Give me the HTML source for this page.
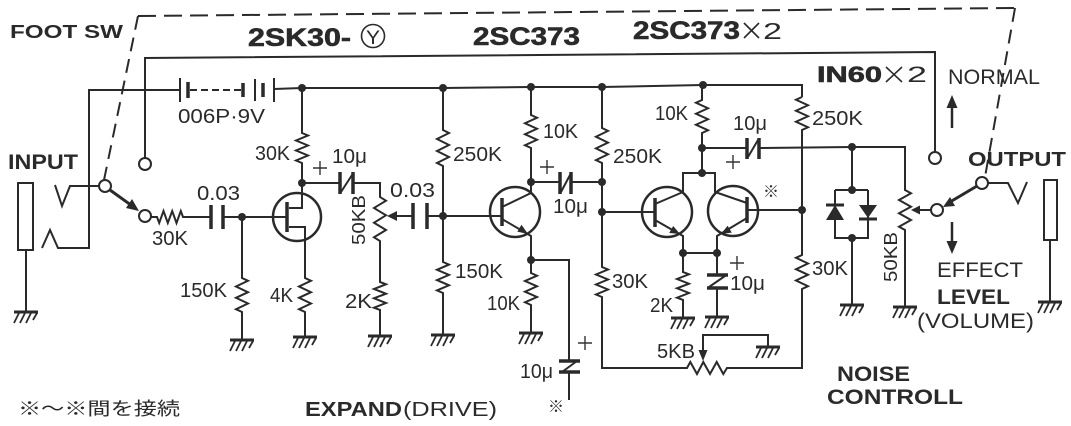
<!DOCTYPE html>
<html><head><meta charset="utf-8"><style>
html,body{margin:0;padding:0;background:#fff;}
svg{display:block;}
text{font-family:"Liberation Sans","Noto Sans CJK JP",sans-serif;fill:#2a2a2a;}
.t{font-size:20px;}
.b{font-weight:bold;}
</style></head><body>
<svg width="1071" height="426" viewBox="0 0 1071 426" xmlns="http://www.w3.org/2000/svg">
<rect width="1071" height="426" fill="#fff"/>
<g fill="none" stroke="#2a2a2a" stroke-width="2">
<path d="M138,16 L1015,8" stroke-dasharray="18,8"/>
<path d="M138,16 L104,180" stroke-dasharray="14,8"/>
<path d="M1015,8 L985,177" stroke-dasharray="14,8"/>

<rect x="18" y="183" width="15" height="67"/>
<path d="M26,250 L26,312"/>
<path d="M55,185 L62,206 L70,186 L99,186"/>
<path d="M42,248 L50,230 L58,248 L89,248 L89,90 L180,90"/>

<path d="M145,158 L145,58 L935,52 L935,152"/>

<path d="M180,78 L180,102"/>
<path d="M188,82 L188,98" stroke-width="3.5"/>
<path d="M190,90 L242,90" stroke-dasharray="7,4"/>
<path d="M243,83 L243,97" stroke-width="3.5"/>
<path d="M255,79 L255,101"/>
<path d="M263,83 L263,97" stroke-width="3.5"/>
<path d="M274,78 L274,102"/>
<path d="M274,89 L302,88 L443,88 L531,87 L602,87 L703,85 L802,85 L802,97"/>

<path d="M302,88 L302,133 L308,135.5 L296,140.5 L308,145.5 L296,150.5 L308,155.5 L296,160.5 L302,163 L302,208 L289,208"/>
<circle cx="297" cy="217" r="24" stroke-width="2.5"/>
<path d="M287,202 L287,232" stroke-width="3.5"/>
<path d="M289,227 L305,227 L305,278 L311,280.8 L299,286.5 L311,292.2 L299,297.8 L311,303.5 L299,309.2 L305,312 L305,337"/>
<path d="M242,217 L287,217"/>
<path d="M242,217 L242,278 L248,280.8 L236,286.5 L248,292.2 L236,297.8 L248,303.5 L236,309.2 L242,312 L242,340"/>
<path d="M242,217 L223,217"/>
<path d="M223,205 L223,229 M211,205 L211,229" stroke-width="3.5"/>
<path d="M211,217 L183,217 L180.8,211 L176.5,223 L172.2,211 L167.8,223 L163.5,211 L159.2,223 L157,217 L151,217"/>

<circle cx="145" cy="164" r="6" fill="#fff"/>
<circle cx="145" cy="216" r="6" fill="#fff"/>
<circle cx="105" cy="186" r="6" fill="#fff"/>
<path d="M110,190 L135,208" stroke-width="3"/>

<path d="M302,183 L339,183 M352,183 L380,183 L380,197 L386,200.7 L374,208 L386,215.3 L374,222.7 L386,230 L374,237.3 L380,241 L380,282 L386,284.3 L374,289 L386,293.7 L374,298.3 L386,303 L374,307.7 L380,310 L380,336"/>
<path d="M340,172 L340,194 M353,172 L353,194" stroke-width="3.5"/>
<path d="M341,192 L352,175"/>
<path d="M413,216 L392,216"/>
<path d="M413,203 L413,229 M427,203 L427,229" stroke-width="3.5"/>
<path d="M427,216 L502,216"/>

<path d="M443,88 L443,130 L449,133 L437,139 L449,145 L437,151 L449,157 L437,163 L443,166 L443,262 L449,264.6 L437,269.8 L449,274.9 L437,280.1 L449,285.3 L437,290.4 L443,293 L443,335"/>

<circle cx="515" cy="212" r="25" stroke-width="2.5"/>
<path d="M502,198 L502,226" stroke-width="3.5"/>
<path d="M531,87 L531,115 L537,117.75 L525,123.25 L537,128.75 L525,134.25 L537,139.75 L525,145.25 L531,148 L531,193 L502,207"/>
<path d="M502,219 L531,236 L531,273 L537,275.7 L525,281 L537,286.3 L525,291.7 L537,297 L525,302.3 L531,305 L531,333"/>
<path d="M531,260 L569,260 L569,361 M569,372 L569,400"/>
<path d="M559,361 L580,361 M559,372 L580,372" stroke-width="3.5"/>
<path d="M562,372 L577,361"/>
<path d="M531,182 L559,182 M572,182 L602,182"/>
<path d="M560,172 L560,194 M571,172 L571,194" stroke-width="3.5"/>
<path d="M561,192 L570,175"/>

<path d="M602,87 L602,128 L608,130.9 L596,136.75 L608,142.6 L596,148.4 L608,154.25 L596,160.1 L602,163 L602,267 L608,269.5 L596,274.5 L608,279.5 L596,284.5 L608,289.5 L596,294.5 L602,297 L602,368 L687,368 L690.3,362 L697,374 L703.3,362 L710,374 L716.7,362 L723.3,374 L727,368 L802,368 L802,289 L808,286.2 L796,280.5 L808,274.8 L796,269.2 L808,263.5 L796,257.8 L802,255 L802,130 L808,127.25 L796,121.75 L808,116.25 L796,110.75 L808,105.25 L796,99.75 L802,97"/>
<path d="M602,212 L655,212"/>

<circle cx="667" cy="212" r="25" stroke-width="2.5"/>
<circle cx="733" cy="211" r="25" stroke-width="2.5"/>
<path d="M655,198 L655,227 M747,197 L747,223" stroke-width="3.5"/>
<path d="M655,204 L683,192 L683,173 L715,173 L715,192 L747,203"/>
<path d="M655,220 L683,236 L683,253 L717,253 L717,236 L747,218"/>
<path d="M747,210 L803,210"/>
<path d="M702,173 L702,148 L702,133 L708,130.25 L696,124.75 L708,119.25 L696,113.75 L708,108.25 L696,102.75 L702,100 L702,85"/>
<path d="M702,148 L746,148 M759,148 L852,147 L905,147 L905,190 L911,193.3 L899,200 L911,206.7 L899,213.3 L911,220 L899,226.7 L905,230 L905,307"/>
<path d="M747,138 L747,159 M759,138 L759,159" stroke-width="3.5"/>
<path d="M748,157 L758,140"/>
<path d="M683,253 L683,272 L689,274.3 L677,279 L689,283.7 L677,288.3 L689,293 L677,297.7 L683,300 L683,318"/>
<path d="M717,253 L717,275 M717,288 L717,317"/>
<path d="M707,275 L728,275 M707,288 L728,288" stroke-width="3.5"/>
<path d="M709,287 L725,276"/>
<path d="M768,347 L768,335 L703,335 L703,352"/>

<path d="M852,147 L852,190 M835,190 L868,190 M835,190 L835,238 L868,238 L868,190 M852,238 L852,305"/>
<path d="M826,205 L844,205 M859,219 L877,219" stroke-width="3"/>

<path d="M931,210 L916,210"/>
<circle cx="935" cy="158" r="6" fill="#fff"/>
<circle cx="937" cy="210" r="6" fill="#fff"/>
<circle cx="982" cy="183" r="6" fill="#fff"/>
<path d="M977,186 L950,202" stroke-width="3"/>
<path d="M988,183 L1008,183 L1018,203 L1027,182"/>
<rect x="1044" y="180" width="13" height="60"/>
<path d="M1050,240 L1050,302"/>
<path d="M952,128 L952,105 M952,222 L952,243" stroke-width="2.5"/>

<path d="M14,312 L38,312 M230,340 L254,340 M293,337 L317,337 M368,336 L392,336 M431,335 L455,335 M519,333 L543,333 M671,318 L695,318 M705,317 L729,317 M756,347 L780,347 M840,305 L864,305 M893,307 L917,307 M1038,302 L1062,302" stroke-width="3"/>
</g>

<g stroke="#2a2a2a" stroke-width="1.8" fill="none">
<path d="M19,313 L14,323 M25,313 L20,323 M31,313 L26,323 M37,313 L33,320"/>
<path d="M235,341 L230,351 M241,341 L236,351 M247,341 L242,351 M253,341 L249,348"/>
<path d="M298,338 L293,348 M304,338 L299,348 M310,338 L305,348 M316,338 L312,345"/>
<path d="M373,337 L368,347 M379,337 L374,347 M385,337 L380,347 M391,337 L387,344"/>
<path d="M436,336 L431,346 M442,336 L437,346 M448,336 L443,346 M454,336 L450,343"/>
<path d="M524,334 L519,344 M530,334 L525,344 M536,334 L531,344 M542,334 L538,341"/>
<path d="M676,319 L671,329 M682,319 L677,329 M688,319 L683,329 M694,319 L690,326"/>
<path d="M710,318 L705,328 M716,318 L711,328 M722,318 L717,328 M728,318 L724,325"/>
<path d="M761,348 L756,358 M767,348 L762,358 M773,348 L768,358 M779,348 L775,355"/>
<path d="M845,306 L840,316 M851,306 L846,316 M857,306 L852,316 M863,306 L859,313"/>
<path d="M898,308 L893,318 M904,308 L899,318 M910,308 L905,318 M916,308 L912,315"/>
<path d="M1043,303 L1038,313 M1049,303 L1044,313 M1055,303 L1050,313 M1061,303 L1057,310"/>
</g>

<g fill="#2a2a2a" stroke="none">
<circle cx="302" cy="88" r="4"/><circle cx="302" cy="183" r="4"/><circle cx="242" cy="217" r="4"/>
<circle cx="443" cy="88" r="4"/><circle cx="443" cy="216" r="4"/>
<circle cx="531" cy="87" r="4"/><circle cx="531" cy="182" r="4"/><circle cx="531" cy="260" r="4"/>
<circle cx="602" cy="87" r="4"/><circle cx="602" cy="182" r="4"/><circle cx="602" cy="212" r="4"/>
<circle cx="703" cy="85" r="4"/><circle cx="702" cy="148" r="4"/><circle cx="702" cy="173" r="4"/>
<circle cx="683" cy="253" r="4"/><circle cx="717" cy="253" r="4"/><circle cx="802" cy="210" r="4"/>
<circle cx="852" cy="147" r="4"/><circle cx="852" cy="190" r="4"/><circle cx="852" cy="238" r="4"/>
<polygon points="528,234 517.3,231.6 521.5,224.8"/>
<polygon points="680,234 669.2,233 673.2,226"/>
<polygon points="721,234 731.8,232.6 727.6,225.8"/>
<polygon points="139,211 126,208 132,199"/>
<polygon points="943,207 955,206 950,197"/>
<polygon points="387,216 397,211 397,221"/>
<polygon points="911,210 920,205.5 920,214.5"/>
<polygon points="703,361 698.5,350 707.5,350"/>
<polygon points="952,95 946.5,108 957.5,108"/>
<polygon points="952,254 946.5,241 957.5,241"/>
<polygon points="835,205 826,220 844,220"/>
<polygon points="868,218 859,205 877,205"/>
</g>

<g stroke="#333" stroke-width="1.4">
<path d="M313,168 L327,168 M320,161 L320,175"/>
<path d="M540,167 L554,167 M547,160 L547,174"/>
<path d="M578,343 L592,343 M585,336 L585,350"/>
<path d="M726,162 L740,162 M733,155 L733,169"/>
<path d="M730,263 L744,263 M737,256 L737,270"/>
</g>

<!-- × signs -->
<g stroke="#2a2a2a" stroke-width="1.6">
<path d="M744,23 L759,38 M759,23 L744,38"/>
<path d="M886,67 L902,82 M902,67 L886,82"/>
</g>

<circle cx="373" cy="36" r="11.5" fill="none" stroke="#2a2a2a" stroke-width="1.6"/>

<text x="10" y="38" class="b" font-size="18" textLength="113" lengthAdjust="spacingAndGlyphs">FOOT SW</text>
<text x="8" y="169" class="b" font-size="21" textLength="70" lengthAdjust="spacingAndGlyphs">INPUT</text>
<text x="248" y="46" class="b" font-size="25" textLength="103" lengthAdjust="spacingAndGlyphs" stroke="#2a2a2a" stroke-width="0.6">2SK30-</text>
<text x="366" y="44" font-size="19" textLength="14" lengthAdjust="spacingAndGlyphs">Y</text>
<text x="473" y="45" class="b" font-size="25" textLength="107" lengthAdjust="spacingAndGlyphs" stroke="#2a2a2a" stroke-width="0.6">2SC373</text>
<text x="633" y="39" class="b" font-size="25" textLength="107" lengthAdjust="spacingAndGlyphs" stroke="#2a2a2a" stroke-width="0.6">2SC373</text>
<text x="763" y="39" font-size="23" textLength="19" lengthAdjust="spacingAndGlyphs">2</text>
<text x="817" y="82" class="b" font-size="22" textLength="65" lengthAdjust="spacingAndGlyphs" stroke="#2a2a2a" stroke-width="0.6">IN60</text>
<text x="907" y="82" font-size="22" textLength="20" lengthAdjust="spacingAndGlyphs">2</text>
<text x="948" y="84" font-size="21" textLength="92" lengthAdjust="spacingAndGlyphs">NORMAL</text>
<text x="968" y="166" class="b" font-size="20" textLength="98" lengthAdjust="spacingAndGlyphs">OUTPUT</text>
<text x="937" y="277" font-size="21" textLength="86" lengthAdjust="spacingAndGlyphs">EFFECT</text>
<text x="937" y="304" class="b" font-size="21" textLength="73" lengthAdjust="spacingAndGlyphs">LEVEL</text>
<text x="917" y="328" font-size="21" textLength="117" lengthAdjust="spacingAndGlyphs">(VOLUME)</text>
<text x="837" y="381" class="b" font-size="21" textLength="73" lengthAdjust="spacingAndGlyphs">NOISE</text>
<text x="827" y="404" class="b" font-size="21" textLength="136" lengthAdjust="spacingAndGlyphs">CONTROLL</text>
<text x="305" y="416" class="b" font-size="20" textLength="97" lengthAdjust="spacingAndGlyphs">EXPAND</text>
<text x="403" y="416" font-size="20" textLength="94" lengthAdjust="spacingAndGlyphs">(DRIVE)</text>
<text x="18" y="415" font-size="18" textLength="162" lengthAdjust="spacingAndGlyphs">※～※間を接続</text>

<g class="t" font-size="20">
<text x="178" y="123" textLength="87" lengthAdjust="spacingAndGlyphs">006P·9V</text>
<text x="255" y="160" textLength="35" lengthAdjust="spacingAndGlyphs">30K</text>
<text x="332" y="163" textLength="35" lengthAdjust="spacingAndGlyphs">10μ</text>
<text x="197" y="200" textLength="43" lengthAdjust="spacingAndGlyphs">0.03</text>
<text x="152" y="245" textLength="36" lengthAdjust="spacingAndGlyphs">30K</text>
<text x="180" y="297" textLength="47" lengthAdjust="spacingAndGlyphs">150K</text>
<text x="270" y="302" textLength="23" lengthAdjust="spacingAndGlyphs">4K</text>
<text x="345" y="308" textLength="27" lengthAdjust="spacingAndGlyphs">2K</text>
<text transform="translate(365,245) rotate(-90)" x="0" y="0" font-size="18" textLength="50" lengthAdjust="spacingAndGlyphs">50KB</text>
<text x="390" y="197" textLength="45" lengthAdjust="spacingAndGlyphs">0.03</text>
<text x="453" y="161" textLength="49" lengthAdjust="spacingAndGlyphs">250K</text>
<text x="455" y="278" textLength="48" lengthAdjust="spacingAndGlyphs">150K</text>
<text x="543" y="138" textLength="35" lengthAdjust="spacingAndGlyphs">10K</text>
<text x="487" y="310" textLength="33" lengthAdjust="spacingAndGlyphs">10K</text>
<text x="553" y="213" textLength="35" lengthAdjust="spacingAndGlyphs">10μ</text>
<text x="613" y="163" textLength="49" lengthAdjust="spacingAndGlyphs">250K</text>
<text x="612" y="288" textLength="36" lengthAdjust="spacingAndGlyphs">30K</text>
<text x="520" y="378" textLength="33" lengthAdjust="spacingAndGlyphs">10μ</text>
<text x="548" y="412" font-size="16">※</text>
<text x="655" y="120" textLength="33" lengthAdjust="spacingAndGlyphs">10K</text>
<text x="733" y="130" textLength="34" lengthAdjust="spacingAndGlyphs">10μ</text>
<text x="763" y="197" font-size="16">※</text>
<text x="812" y="125" textLength="51" lengthAdjust="spacingAndGlyphs">250K</text>
<text x="650" y="312" textLength="23" lengthAdjust="spacingAndGlyphs">2K</text>
<text x="730" y="290" textLength="35" lengthAdjust="spacingAndGlyphs">10μ</text>
<text x="657" y="358" textLength="38" lengthAdjust="spacingAndGlyphs">5KB</text>
<text x="812" y="275" textLength="36" lengthAdjust="spacingAndGlyphs">30K</text>
<text transform="translate(897,282) rotate(-90)" x="0" y="0" font-size="18" textLength="50" lengthAdjust="spacingAndGlyphs">50KB</text>
</g>
</svg>
</body></html>
